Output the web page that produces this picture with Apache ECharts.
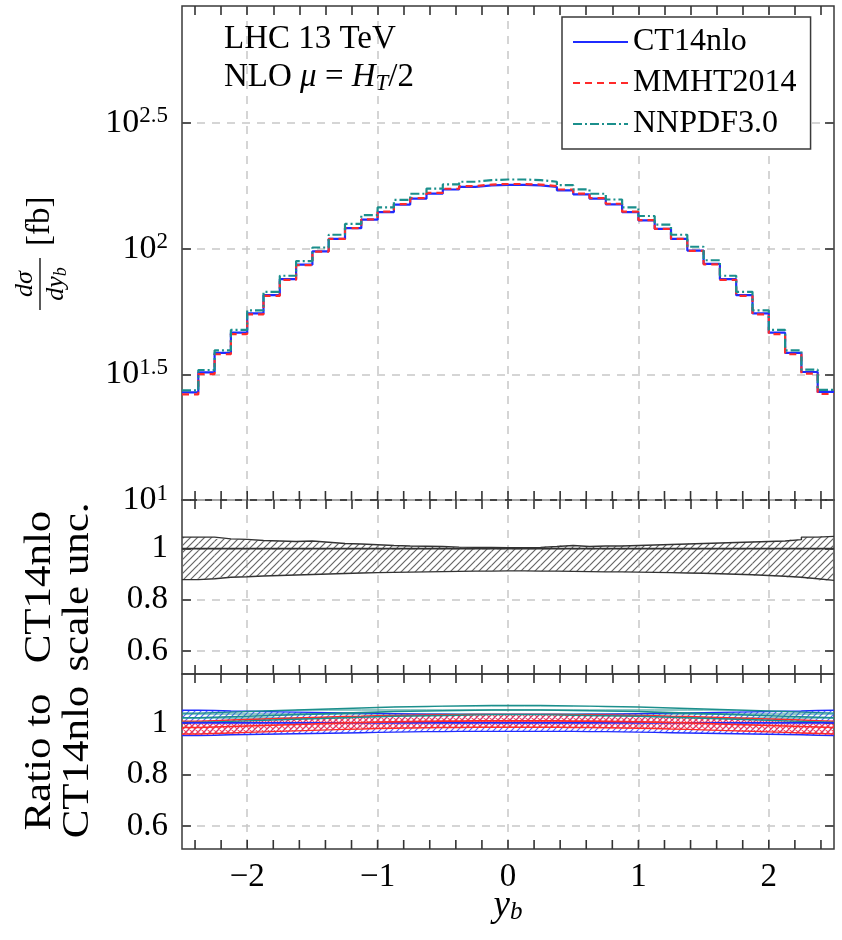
<!DOCTYPE html>
<html>
<head>
<meta charset="utf-8">
<script src="https://cdn.jsdelivr.net/npm/echarts@6/dist/echarts.min.js"></script>
<style>
  html, body { margin: 0; padding: 0; background: #fff; }
  #chart { width: 842px; height: 940px; }
</style>
</head>
<body>
<div id="chart"></div>
<script>
// rapidity bins: 40 bins of width 0.125 between -2.5 and 2.5
const binEdges = Array.from({ length: 41 }, (_, i) => -2.5 + i * 0.125);

// dsigma/dy_b [fb], one value per bin
const ct14 = [26.8, 32.2, 38.5, 46.3, 55.3, 65.3, 75.6, 86.3, 97.5, 109.3, 120.6, 130.3, 139.7, 149.6, 158.0, 165.5, 171.8, 175.9, 178.4, 179.3,
  179.3, 178.4, 175.9, 170.6, 164.4, 158.0, 150.0, 139.7, 129.4, 119.8, 109.3, 98.2, 86.9, 75.6, 65.3, 55.3, 46.3, 38.5, 32.3, 26.9];
const mmht = [26.3, 31.7, 38.0, 45.7, 54.7, 64.8, 75.1, 86.0, 97.3, 109.3, 120.7, 130.7, 140.3, 150.3, 158.9, 166.7, 173.0, 177.3, 179.8, 180.7,
  180.7, 179.8, 177.3, 171.8, 165.6, 158.9, 150.8, 140.3, 129.8, 119.9, 109.3, 98.0, 86.6, 75.1, 64.8, 54.7, 45.7, 38.0, 31.8, 26.4];
const nnpdf = [27.3, 32.9, 39.4, 47.5, 56.8, 67.3, 78.0, 89.2, 101.0, 113.5, 125.4, 135.8, 145.8, 156.3, 165.3, 173.3, 180.0, 184.5, 187.3, 188.3,
  188.3, 187.3, 184.5, 178.8, 172.1, 165.3, 156.8, 145.8, 134.8, 124.6, 113.5, 101.7, 89.9, 78.0, 67.3, 56.8, 47.5, 39.4, 33.0, 27.4];

// CT14nlo scale uncertainty band (ratio to central)
const scaleUp = [1.045, 1.045, 1.038, 1.036, 1.032, 1.030, 1.028, 1.030, 1.025, 1.020, 1.018, 1.015, 1.012, 1.010, 1.009, 1.008, 1.006, 1.005, 1.005, 1.004,
  1.004, 1.005, 1.008, 1.012, 1.008, 1.010, 1.010, 1.012, 1.014, 1.016, 1.018, 1.020, 1.022, 1.024, 1.026, 1.028, 1.030, 1.035, 1.045, 1.048];
const scaleLo = [0.879, 0.882, 0.888, 0.890, 0.893, 0.895, 0.897, 0.899, 0.901, 0.903, 0.905, 0.906, 0.907, 0.908, 0.909, 0.910, 0.911, 0.912, 0.912, 0.913,
  0.913, 0.912, 0.912, 0.911, 0.910, 0.909, 0.909, 0.908, 0.907, 0.906, 0.905, 0.904, 0.902, 0.900, 0.898, 0.895, 0.892, 0.888, 0.882, 0.876];

// ratio to CT14nlo: central values and PDF bands
const ctRatio = [1, 1, 1, 1, 1, 1, 1, 1, 1, 1, 1, 1, 1, 1, 1, 1, 1, 1, 1, 1, 1, 1, 1, 1, 1, 1, 1, 1, 1, 1, 1, 1, 1, 1, 1, 1, 1, 1, 1, 1];
const ctUp = [1.049, 1.048, 1.046, 1.045, 1.044, 1.043, 1.042, 1.041, 1.040, 1.039, 1.038, 1.037, 1.036, 1.035, 1.034, 1.034, 1.033, 1.033, 1.033, 1.033,
  1.033, 1.033, 1.033, 1.033, 1.034, 1.034, 1.035, 1.036, 1.037, 1.038, 1.039, 1.040, 1.041, 1.042, 1.043, 1.044, 1.045, 1.046, 1.048, 1.049];
const ctLo = [0.951, 0.952, 0.954, 0.955, 0.956, 0.957, 0.958, 0.959, 0.960, 0.961, 0.962, 0.963, 0.964, 0.965, 0.966, 0.966, 0.967, 0.967, 0.967, 0.967,
  0.967, 0.967, 0.967, 0.967, 0.966, 0.966, 0.965, 0.964, 0.963, 0.962, 0.961, 0.960, 0.959, 0.958, 0.957, 0.956, 0.955, 0.954, 0.952, 0.951];
const mmRatio = [0.982, 0.984, 0.986, 0.988, 0.990, 0.992, 0.994, 0.996, 0.998, 1.000, 1.001, 1.003, 1.004, 1.005, 1.006, 1.007, 1.007, 1.008, 1.008, 1.008,
  1.008, 1.008, 1.008, 1.007, 1.007, 1.006, 1.005, 1.004, 1.003, 1.001, 1.000, 0.998, 0.996, 0.994, 0.992, 0.990, 0.988, 0.986, 0.984, 0.982];
const mmUp = [1.007, 1.009, 1.011, 1.013, 1.015, 1.017, 1.019, 1.021, 1.023, 1.025, 1.026, 1.028, 1.029, 1.030, 1.031, 1.032, 1.032, 1.033, 1.033, 1.033,
  1.033, 1.033, 1.033, 1.032, 1.032, 1.031, 1.030, 1.029, 1.028, 1.026, 1.025, 1.023, 1.021, 1.019, 1.017, 1.015, 1.013, 1.011, 1.009, 1.007];
const mmLo = [0.957, 0.959, 0.961, 0.963, 0.965, 0.967, 0.969, 0.971, 0.973, 0.975, 0.976, 0.978, 0.979, 0.980, 0.981, 0.982, 0.982, 0.983, 0.983, 0.983,
  0.983, 0.983, 0.983, 0.982, 0.982, 0.981, 0.980, 0.979, 0.978, 0.976, 0.975, 0.973, 0.971, 0.969, 0.967, 0.965, 0.963, 0.961, 0.959, 0.957];
const nnRatio = [1.020, 1.022, 1.024, 1.026, 1.028, 1.030, 1.032, 1.034, 1.036, 1.038, 1.040, 1.042, 1.044, 1.045, 1.046, 1.047, 1.048, 1.049, 1.050, 1.050,
  1.050, 1.050, 1.049, 1.048, 1.047, 1.046, 1.045, 1.044, 1.042, 1.040, 1.038, 1.036, 1.034, 1.032, 1.030, 1.028, 1.026, 1.024, 1.022, 1.020];
const nnUp = [1.038, 1.040, 1.042, 1.044, 1.046, 1.048, 1.050, 1.052, 1.054, 1.056, 1.058, 1.060, 1.062, 1.063, 1.064, 1.065, 1.066, 1.067, 1.068, 1.068,
  1.068, 1.068, 1.067, 1.066, 1.065, 1.064, 1.063, 1.062, 1.060, 1.058, 1.056, 1.054, 1.052, 1.050, 1.048, 1.046, 1.044, 1.042, 1.040, 1.038];
const nnLo = [1.002, 1.004, 1.006, 1.008, 1.010, 1.012, 1.014, 1.016, 1.018, 1.020, 1.022, 1.024, 1.026, 1.027, 1.028, 1.029, 1.030, 1.031, 1.032, 1.032,
  1.032, 1.032, 1.031, 1.030, 1.029, 1.028, 1.027, 1.026, 1.024, 1.022, 1.020, 1.018, 1.016, 1.014, 1.012, 1.010, 1.008, 1.006, 1.004, 1.002];

// tick positions
const xLabelTicks = [-2, -1, 0, 1, 2];
const xMinorTicks = [-2.4, -2.2, -2, -1.8, -1.6, -1.4, -1.2, -1, -0.8, -0.6, -0.4, -0.2, 0, 0.2, 0.4, 0.6, 0.8, 1, 1.2, 1.4, 1.6, 1.8, 2, 2.2, 2.4];
const logTicks = [1, 1.5, 2, 2.5];
const ratioTicks = [0.6, 0.8, 1];

const FONT = "Liberation Serif";
const BLUE = "#1f2bff";
const RED = "#ff2a2a";
const TEAL = "#1b8f8c";
const X_MIN = -2.5, X_MAX = 2.5;
const Y_RANGE = [[1, 2.965], [0.51, 1.19], [0.51, 1.19]];

function hatch(color, kind, size, lw) {
  const c = document.createElement("canvas");
  c.width = size;
  c.height = size;
  const ctx = c.getContext("2d");
  ctx.strokeStyle = color;
  ctx.lineWidth = lw || 1;
  ctx.beginPath();
  if (kind === "ne" || kind === "cross") {
    ctx.moveTo(-1, size + 1); ctx.lineTo(size + 1, -1);
    ctx.moveTo(-1, 1); ctx.lineTo(1, -1);
    ctx.moveTo(size - 1, size + 1); ctx.lineTo(size + 1, size - 1);
  }
  if (kind === "cross") {
    ctx.moveTo(-1, -1); ctx.lineTo(size + 1, size + 1);
    ctx.moveTo(size - 1, -1); ctx.lineTo(size + 1, 1);
    ctx.moveTo(-1, size - 1); ctx.lineTo(1, size + 1);
  }
  if (kind === "h") {
    ctx.moveTo(0, size / 2); ctx.lineTo(size, size / 2);
  }
  ctx.stroke();
  return { image: c, repeat: "repeat" };
}

function stepData(vals, fn) {
  const f = fn || ((v) => v);
  const pts = vals.map((v, i) => [binEdges[i], f(v)]);
  pts.push([binEdges[vals.length], f(vals[vals.length - 1])]);
  return pts;
}

function stepLine(name, vals, color, width, type, g, fn, z) {
  return {
    name: name,
    type: "line",
    step: "end",
    xAxisIndex: 2 * g,
    yAxisIndex: 2 * g,
    data: stepData(vals, fn),
    showSymbol: false,
    symbol: "none",
    lineStyle: { color: color, width: width, type: type },
    itemStyle: { color: color },
    z: z || 3,
    silent: true,
  };
}

function band(name, lo, hi, pattern, g) {
  return {
    name: name,
    type: "custom",
    xAxisIndex: 2 * g,
    yAxisIndex: 2 * g,
    encode: { x: [0, 1], y: [2, 3] },
    data: lo.map((l, i) => [binEdges[i], binEdges[i + 1], l, hi[i]]),
    silent: true,
    z: 2,
    renderItem: function (params, api) {
      const p0 = api.coord([api.value(0), api.value(3)]);
      const p1 = api.coord([api.value(1), api.value(2)]);
      return {
        type: "rect",
        shape: { x: p0[0], y: p0[1], width: p1[0] - p0[0], height: p1[1] - p0[1] },
        style: { fill: pattern },
      };
    },
  };
}

// bottom inside ticks of a panel, drawn through the panel's x scale
function bottomTicks(g) {
  const len = 9;
  return {
    name: "ticks " + g,
    type: "custom",
    xAxisIndex: 2 * g,
    yAxisIndex: 2 * g,
    encode: { x: 0, y: 1 },
    data: xMinorTicks.map((v) => [v, Y_RANGE[g][0]]),
    silent: true,
    z: 6,
    renderItem: function (params, api) {
      const cs = params.coordSys;
      const p = api.coord([api.value(0), api.value(1)]);
      return {
        type: "line",
        shape: { x1: p[0], y1: cs.y + cs.height - len, x2: p[0], y2: cs.y + cs.height },
        style: { stroke: "#333", lineWidth: 1.6 },
      };
    },
  };
}

const grids = [
  { left: 182, right: 8, top: 6, height: 494 },
  { left: 182, right: 8, top: 500, height: 174 },
  { left: 182, right: 8, top: 674, height: 175 },
].map((g) => Object.assign(g, { show: true, borderColor: "#3a3a3a", borderWidth: 1.5, backgroundColor: "transparent" }));

const gridDash = { show: true, lineStyle: { color: "#c8c8c8", width: 1.5, type: [8, 7] } };
const tickStyle = { show: true, inside: true, length: 9, lineStyle: { color: "#333", width: 1.6 } };

// two x axes per panel: bottom (labels, gridlines) and top (inside ticks)
const xAxes = [];
const yAxes = [];
grids.forEach((g, gi) => {
  xAxes.push({
    type: "value", gridIndex: gi, min: X_MIN, max: X_MAX, position: "bottom",
    axisLine: { show: false, onZero: false },
    axisTick: { show: false, customValues: xLabelTicks },
    axisLabel: {
      show: gi === 2, customValues: xLabelTicks, margin: 12,
      fontFamily: FONT, fontSize: 33, color: "#000",
      formatter: (v) => (v < 0 ? "\u2212" + Math.abs(v) : String(v)),
    },
    splitLine: gridDash,
  });
  xAxes.push({
    type: "value", gridIndex: gi, min: X_MIN, max: X_MAX, position: "top",
    axisLine: { show: false, onZero: false },
    axisTick: Object.assign({ customValues: xMinorTicks }, tickStyle),
    axisLabel: { show: false, customValues: xMinorTicks },
    splitLine: { show: false },
  });

  const isMain = gi === 0;
  const yTicks = isMain ? logTicks : ratioTicks;
  yAxes.push({
    type: "value", gridIndex: gi, position: "left", min: Y_RANGE[gi][0], max: Y_RANGE[gi][1],
    axisLine: { show: false, onZero: false },
    axisTick: Object.assign({ customValues: yTicks }, tickStyle),
    axisLabel: {
      customValues: yTicks, margin: 14, fontFamily: FONT, fontSize: 33, color: "#000",
      formatter: isMain
        ? (v) => "{a|10}{e|" + (Number.isInteger(v) ? v : v.toFixed(1)) + "}"
        : (v) => (v === 1 ? "1" : v.toFixed(1)),
      rich: {
        a: { fontFamily: FONT, fontSize: 34, color: "#000", lineHeight: 36 },
        e: { fontFamily: FONT, fontSize: 23, color: "#000", lineHeight: 14, verticalAlign: "top" },
      },
    },
    splitLine: gridDash,
  });
  yAxes.push({
    type: "value", gridIndex: gi, position: "right", min: Y_RANGE[gi][0], max: Y_RANGE[gi][1],
    axisLine: { show: false, onZero: false },
    axisTick: Object.assign({ customValues: yTicks }, tickStyle),
    axisLabel: { show: false, customValues: yTicks },
    splitLine: { show: false },
  });
});

const series = [
  // main panel
  stepLine("CT14nlo", ct14, BLUE, 2.2, "solid", 0, Math.log10, 3),
  stepLine("MMHT2014", mmht, RED, 2.2, [7, 5], 0, Math.log10, 4),
  stepLine("NNPDF3.0", nnpdf, TEAL, 2.2, [9, 3, 2, 3], 0, Math.log10, 5),
  // scale uncertainty panel
  band("scale band", scaleLo, scaleUp, hatch("#666", "ne", 7, 1.2), 1),
  stepLine("scale up", scaleUp, "#333", 1.4, "solid", 1),
  stepLine("scale lo", scaleLo, "#333", 1.4, "solid", 1),
  stepLine("scale central", ctRatio, "#333", 1.6, "solid", 1),
  // ratio panel
  band("CT14 band", ctLo, ctUp, hatch("rgba(40,60,255,0.8)", "ne", 6, 1.2), 2),
  band("MMHT band", mmLo, mmUp, hatch("rgba(255,40,60,0.85)", "cross", 6, 1.2), 2),
  band("NNPDF band", nnLo, nnUp, hatch("rgba(27,143,140,0.8)", "h", 4, 1.2), 2),
  stepLine("CT14 up", ctUp, BLUE, 1.4, "solid", 2),
  stepLine("CT14 lo", ctLo, BLUE, 1.4, "solid", 2),
  stepLine("MMHT up", mmUp, RED, 1.4, "solid", 2),
  stepLine("MMHT lo", mmLo, RED, 1.4, "solid", 2),
  stepLine("NNPDF up", nnUp, TEAL, 1.4, "solid", 2),
  stepLine("NNPDF lo", nnLo, TEAL, 1.4, "solid", 2),
  stepLine("CT14 ratio", ctRatio, BLUE, 1.6, "solid", 2, null, 4),
  stepLine("MMHT ratio", mmRatio, RED, 1.6, "solid", 2, null, 4),
  stepLine("NNPDF ratio", nnRatio, TEAL, 1.6, "solid", 2, null, 4),
  bottomTicks(0),
  bottomTicks(1),
  bottomTicks(2),
];

const chart = echarts.init(document.getElementById("chart"), null, { renderer: "canvas" });

chart.setOption({
  animation: false,
  backgroundColor: "#fff",
  grid: grids,
  xAxis: xAxes,
  yAxis: yAxes,
  legend: {
    data: ["CT14nlo", "MMHT2014", "NNPDF3.0"],
    orient: "vertical",
    left: 562,
    top: 17,
    itemWidth: 55,
    itemHeight: 14,
    itemGap: 9,
    padding: [9, 14, 9, 10],
    backgroundColor: "#fff",
    borderColor: "#3a3a3a",
    borderWidth: 1.5,
    borderRadius: 0,
    selectedMode: false,
    itemStyle: { opacity: 0 },
    textStyle: { fontFamily: FONT, fontSize: 32, color: "#000", lineHeight: 31 },
  },
  graphic: [
    {
      type: "text", left: 224, top: 23, z: 10,
      style: { text: "LHC 13 TeV", fontFamily: FONT, fontSize: 33, fill: "#000" },
    },
    {
      type: "text", left: 224, top: 61, z: 10,
      style: {
        text: "{r|NLO }{i|\u03bc}{r| = }{i|H}{s|T}{r|/2}",
        rich: {
          r: { fontFamily: FONT, fontSize: 33, fill: "#000", lineHeight: 36 },
          i: { fontFamily: FONT, fontSize: 33, fontStyle: "italic", fill: "#000", lineHeight: 36 },
          s: { fontFamily: FONT, fontSize: 23, fontStyle: "italic", fill: "#000", lineHeight: 16, verticalAlign: "bottom" },
        },
      },
    },
    // y label of main panel: dσ/dy_b [fb]
    {
      type: "group", x: 40, y: 258, rotation: Math.PI / 2, z: 10,
      children: [
        {
          type: "text", x: -26, y: -2,
          style: { text: "{i|d\u03c3}", align: "center", verticalAlign: "bottom",
            rich: { i: { fontFamily: FONT, fontSize: 26, fontStyle: "italic", fill: "#000" } } },
        },
        { type: "line", shape: { x1: -52, y1: 0, x2: 0, y2: 0 }, style: { stroke: "#000", lineWidth: 1.3 } },
        {
          type: "text", x: -26, y: 2,
          style: { text: "{i|dy}{s|b}", align: "center", verticalAlign: "top",
            rich: {
              i: { fontFamily: FONT, fontSize: 26, fontStyle: "italic", fill: "#000", lineHeight: 28 },
              s: { fontFamily: FONT, fontSize: 18, fontStyle: "italic", fill: "#000", lineHeight: 12, verticalAlign: "bottom" },
            } },
        },
        {
          type: "text", x: 12, y: 0,
          style: { text: "[fb]", fontFamily: FONT, fontSize: 33, fill: "#000", align: "left", verticalAlign: "middle" },
        },
      ],
    },
    {
      type: "text", x: 59, y: 587, rotation: Math.PI / 2, scaleX: 1.16, z: 10,
      style: { text: "CT14nlo\nscale unc.", fontFamily: FONT, fontSize: 37, lineHeight: 38,
        fill: "#000", align: "center", verticalAlign: "middle" },
    },
    {
      type: "text", x: 59, y: 762, rotation: Math.PI / 2, scaleX: 1.16, z: 10,
      style: { text: "Ratio to\nCT14nlo", fontFamily: FONT, fontSize: 37, lineHeight: 38,
        fill: "#000", align: "center", verticalAlign: "middle" },
    },
    {
      type: "text", x: 508, y: 906, z: 10,
      style: { text: "{i|y}{s|b}", align: "center", verticalAlign: "middle",
        rich: {
          i: { fontFamily: FONT, fontSize: 37, fontStyle: "italic", fill: "#000", lineHeight: 38 },
          s: { fontFamily: FONT, fontSize: 25, fontStyle: "italic", fill: "#000", lineHeight: 18, verticalAlign: "bottom" },
        } },
    },
  ],
  series: series,
});
</script>
</body>
</html>
